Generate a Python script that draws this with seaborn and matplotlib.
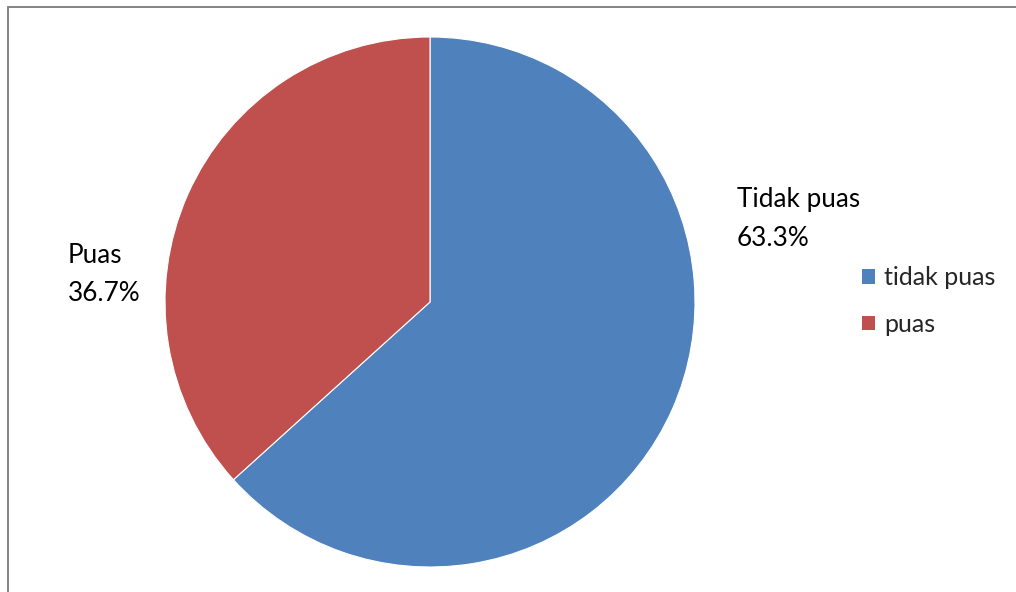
import matplotlib
matplotlib.use("Agg")
import matplotlib.pyplot as plt
from matplotlib.lines import Line2D
import seaborn as sns

categories = ["tidak puas", "puas"]
label_names = ["Tidak puas", "Puas"]
values = [63.3, 36.7]
colors = ["#4F81BD", "#C0504D"]

sns.set_theme(style="white")
plt.rcParams["font.family"] = ["Lato", "DejaVu Sans"]

W, H = 1016, 592
fig = plt.figure(figsize=(W / 100, H / 100), dpi=100)
fig.patch.set_facecolor("white")

cx, cy, r = 430, 302, 265
ax = fig.add_axes([(cx - r) / W, (H - cy - r) / H, 2 * r / W, 2 * r / H])
wedges, _ = ax.pie(values, colors=colors, startangle=90, counterclock=False,
                   radius=1, wedgeprops=dict(linewidth=0.8, edgecolor="white"))
ax.set_xlim(-1, 1)
ax.set_ylim(-1, 1)
ax.set_aspect("equal")
ax.axis("off")

fs = 18.8
fig.text(737 / W, 1 - 219 / H, f"{label_names[0]}\n{values[0]:.1f}%", ha="left", va="center",
         fontsize=fs, color="black", linespacing=1.65)
fig.text(68 / W, 1 - 275 / H, f"{label_names[1]}\n{values[1]:.1f}%", ha="left", va="center",
         fontsize=fs, color="black", linespacing=1.65)

leg = fig.legend(wedges, categories, loc="center left", bbox_to_anchor=(862 / W, 1 - 301 / H),
                 frameon=False, fontsize=18, handlelength=0.52, handleheight=0.52,
                 handletextpad=0.36, labelspacing=0.95, borderaxespad=0, borderpad=0)
for h in leg.legend_handles:
    h.set_edgecolor("none")

border = "#878787"
lw = 2 * 72 / 100
fig.add_artist(Line2D([8 / W, 1.0], [1 - 7 / H, 1 - 7 / H], color=border, lw=lw,
                      transform=fig.transFigure))
fig.add_artist(Line2D([8 / W, 8 / W], [0, 1 - 7 / H], color=border, lw=lw,
                      transform=fig.transFigure))

fig.savefig("out.png", dpi=100, facecolor="white")
